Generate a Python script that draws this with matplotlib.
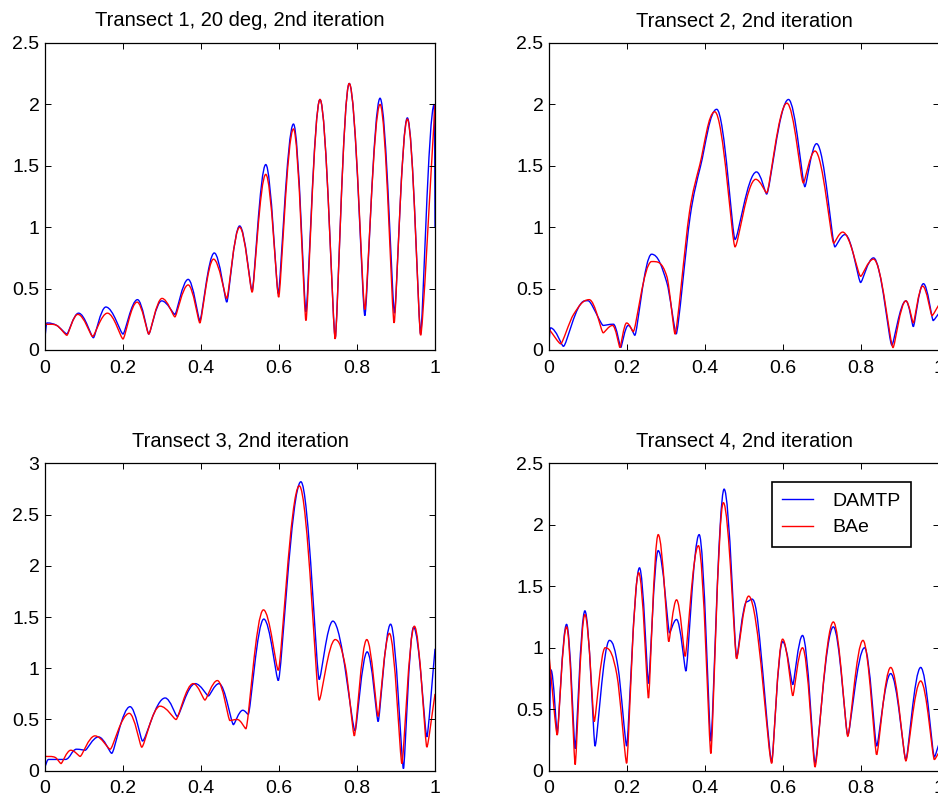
import numpy as np
import matplotlib
matplotlib.use('Agg')
import matplotlib.pyplot as plt
from matplotlib.path import Path
from matplotlib.patches import PathPatch
from matplotlib.lines import Line2D
from matplotlib.ticker import FormatStrFormatter

plt.rcParams['font.family'] = ['Liberation Sans', 'DejaVu Sans']

# values: peaks, troughs and a few shoulders of each curve
t1_x_damtp = [0.0, 0.005, 0.03, 0.056, 0.086, 0.124, 0.156, 0.2, 0.237, 0.266,
              0.299, 0.333, 0.367, 0.397, 0.434, 0.466, 0.499, 0.531, 0.566, 0.598,
              0.637, 0.669, 0.705, 0.744, 0.78, 0.82, 0.859, 0.896, 0.929, 0.963,
              0.998, 1.0]
t1_damtp = [0.11, 0.22, 0.20, 0.13, 0.30, 0.10, 0.35, 0.13, 0.41, 0.13,
            0.40, 0.29, 0.575, 0.24, 0.79, 0.39, 1.01, 0.48, 1.51, 0.46,
            1.84, 0.31, 2.04, 0.10, 2.17, 0.28, 2.05, 0.30, 1.89, 0.13,
            2.0, 1.0]
t1_x_bae = [0.0, 0.03, 0.056, 0.084, 0.122, 0.16, 0.2, 0.236, 0.266, 0.3,
            0.333, 0.367, 0.397, 0.432, 0.466, 0.499, 0.531, 0.566, 0.599, 0.637,
            0.669, 0.705, 0.744, 0.78, 0.82, 0.859, 0.895, 0.929, 0.963, 1.0]
t1_bae = [0.21, 0.20, 0.12, 0.29, 0.11, 0.30, 0.09, 0.39, 0.13, 0.42,
          0.27, 0.53, 0.22, 0.74, 0.42, 1.0, 0.47, 1.43, 0.43, 1.80,
          0.24, 2.04, 0.09, 2.17, 0.33, 2.0, 0.22, 1.88, 0.12, 2.0]

t2_x_damtp = [0.0, 0.004, 0.037, 0.092, 0.105, 0.139, 0.165, 0.184, 0.203, 0.22,
              0.263, 0.302, 0.326, 0.362, 0.388, 0.43, 0.477, 0.532, 0.558, 0.614,
              0.656, 0.686, 0.733, 0.759, 0.799, 0.832, 0.879, 0.915, 0.934, 0.96,
              0.985, 1.0]
t2_damtp = [0.07, 0.18, 0.03, 0.40, 0.39, 0.20, 0.21, 0.02, 0.20, 0.12,
            0.78, 0.55, 0.13, 1.09, 1.49, 1.96, 0.90, 1.45, 1.27, 2.04,
            1.33, 1.68, 0.84, 0.94, 0.55, 0.75, 0.04, 0.40, 0.19, 0.54,
            0.24, 0.30]
t2_x_bae = [0.0, 0.03, 0.063, 0.103, 0.139, 0.163, 0.182, 0.199, 0.216, 0.263,
            0.302, 0.323, 0.36, 0.386, 0.425, 0.477, 0.53, 0.558, 0.61, 0.652,
            0.682, 0.73, 0.753, 0.799, 0.832, 0.882, 0.915, 0.934, 0.958, 0.982,
            1.0]
t2_bae = [0.17, 0.05, 0.29, 0.41, 0.14, 0.20, 0.02, 0.22, 0.15, 0.72,
          0.60, 0.13, 1.12, 1.50, 1.94, 0.84, 1.39, 1.28, 2.01, 1.36,
          1.62, 0.87, 0.96, 0.60, 0.74, 0.02, 0.40, 0.22, 0.52, 0.28,
          0.37]

t3_x_damtp = [0.0, 0.009, 0.052, 0.081, 0.103, 0.137, 0.171, 0.218, 0.25, 0.308,
              0.339, 0.385, 0.419, 0.446, 0.483, 0.507, 0.521, 0.561, 0.598, 0.656,
              0.703, 0.738, 0.795, 0.826, 0.854, 0.886, 0.919, 0.945, 0.979, 1.0]
t3_damtp = [0.04, 0.11, 0.11, 0.21, 0.20, 0.33, 0.17, 0.625, 0.29, 0.71,
            0.53, 0.85, 0.73, 0.85, 0.45, 0.59, 0.55, 1.48, 0.88, 2.82,
            0.89, 1.46, 0.39, 1.16, 0.48, 1.43, 0.02, 1.40, 0.33, 1.19]
t3_x_bae = [0.0, 0.026, 0.041, 0.066, 0.09, 0.128, 0.167, 0.216, 0.248, 0.295,
            0.336, 0.38, 0.41, 0.442, 0.474, 0.493, 0.515, 0.56, 0.598, 0.652,
            0.703, 0.744, 0.77, 0.793, 0.825, 0.854, 0.883, 0.915, 0.947, 0.979,
            1.0]
t3_bae = [0.14, 0.13, 0.07, 0.20, 0.14, 0.34, 0.21, 0.56, 0.23, 0.63,
          0.50, 0.85, 0.69, 0.88, 0.49, 0.50, 0.41, 1.57, 0.98, 2.78,
          0.69, 1.28, 1.02, 0.34, 1.28, 0.53, 1.34, 0.07, 1.41, 0.23,
          0.75]

t4_x_damtp = [0.0, 0.005, 0.021, 0.045, 0.067, 0.092, 0.118, 0.155, 0.177, 0.199,
              0.232, 0.255, 0.28, 0.309, 0.327, 0.351, 0.385, 0.415, 0.449, 0.481,
              0.507, 0.532, 0.571, 0.599, 0.625, 0.65, 0.682, 0.729, 0.766, 0.809,
              0.84, 0.876, 0.915, 0.953, 0.988, 1.0]
t4_damtp = [0.06, 0.82, 0.30, 1.19, 0.18, 1.30, 0.20, 1.06, 0.84, 0.20,
            1.65, 0.71, 1.79, 1.12, 1.23, 0.81, 1.92, 0.24, 2.29, 0.92,
            1.375, 1.29, 0.07, 1.05, 0.70, 1.10, 0.06, 1.17, 0.29, 1.0,
            0.20, 0.79, 0.09, 0.84, 0.11, 0.22]
t4_x_bae = [0.0, 0.021, 0.045, 0.067, 0.092, 0.116, 0.144, 0.174, 0.199, 0.23,
            0.255, 0.28, 0.307, 0.327, 0.349, 0.383, 0.415, 0.447, 0.481, 0.512,
            0.571, 0.599, 0.625, 0.65, 0.682, 0.729, 0.766, 0.805, 0.84, 0.876,
            0.915, 0.953, 0.988, 1.0]
t4_bae = [0.94, 0.29, 1.17, 0.05, 1.27, 0.40, 1.00, 0.78, 0.06, 1.61,
          0.59, 1.92, 1.05, 1.39, 0.93, 1.83, 0.14, 2.18, 0.91, 1.42,
          0.06, 1.07, 0.61, 1.0, 0.03, 1.21, 0.28, 1.06, 0.13, 0.84,
          0.08, 0.73, 0.09, 0.15]

titles = ['Transect 1, 20 deg, 2nd iteration', 'Transect 2, 2nd iteration',
          'Transect 3, 2nd iteration', 'Transect 4, 2nd iteration']
ymax = [2.5, 2.5, 3, 2.5]


def smooth_path(x, y):
    # bezier through the read points, flat tangents at peaks and troughs
    x = np.asarray(x, float)
    y = np.asarray(y, float)
    n = len(x)
    m = np.zeros(n)
    f = np.full(n, 0.33)
    for i in range(1, n - 1):
        d1, d2 = y[i] - y[i-1], y[i+1] - y[i]
        if d1 * d2 > 0:
            m[i] = (y[i+1] - y[i-1]) / (x[i+1] - x[i-1])
        elif d1 < 0:
            f[i] = 0.15      # trough: sharper
        else:
            f[i] = 0.42      # peak: rounded
    m[0] = (y[1] - y[0]) / (x[1] - x[0])
    m[-1] = (y[-1] - y[-2]) / (x[-1] - x[-2])
    verts = [(x[0], y[0])]
    codes = [Path.MOVETO]
    for i in range(n - 1):
        dx = x[i+1] - x[i]
        a, b = f[i] * dx, f[i+1] * dx
        verts += [(x[i] + a, y[i] + a * m[i]),
                  (x[i+1] - b, y[i+1] - b * m[i+1]),
                  (x[i+1], y[i+1])]
        codes += [Path.CURVE4] * 3
    return Path(verts, codes)


series = [(t1_x_damtp, t1_damtp, t1_x_bae, t1_bae),
          (t2_x_damtp, t2_damtp, t2_x_bae, t2_bae),
          (t3_x_damtp, t3_damtp, t3_x_bae, t3_bae),
          (t4_x_damtp, t4_damtp, t4_x_bae, t4_bae)]

fig = plt.figure(figsize=(9.38, 8.02), dpi=100)
boxes = [[0.048, 0.5636, 0.4158, 0.3828], [0.5853, 0.5636, 0.4158, 0.3828],
         [0.048, 0.039, 0.4158, 0.3833], [0.5853, 0.039, 0.4158, 0.3833]]

for k in range(4):
    ax = fig.add_axes(boxes[k])
    xd, yd, xb, yb = series[k]
    ax.add_patch(PathPatch(smooth_path(xd, yd), fill=False, edgecolor='b', lw=1.0))
    ax.add_patch(PathPatch(smooth_path(xb, yb), fill=False, edgecolor='r', lw=1.0))
    ax.set_xlim(0, 1)
    ax.set_ylim(0, ymax[k])
    ax.set_xticks(np.arange(0, 1.01, 0.2))
    ax.set_yticks(np.arange(0, ymax[k] + 0.01, 0.5))
    ax.xaxis.set_major_formatter(FormatStrFormatter('%g'))
    ax.yaxis.set_major_formatter(FormatStrFormatter('%g'))
    ax.tick_params(direction='in', top=True, right=True, length=4, width=0.7,
                   labelsize=14)
    ax.tick_params(axis='x', pad=7)
    ax.tick_params(axis='y', pad=4)
    for s in ax.spines.values():
        s.set_linewidth(0.9)
    ax.set_title(titles[k], fontsize=14.5, pad=12)
    if k == 3:
        h = [Line2D([], [], color='b', lw=1.0), Line2D([], [], color='r', lw=1.0)]
        leg = ax.legend(h, ['DAMTP', 'BAe'], loc='upper left',
                        bbox_to_anchor=(0.571, 0.94), borderaxespad=0,
                        fontsize=14, fancybox=False, framealpha=1,
                        edgecolor='black', handlelength=1.55,
                        handletextpad=1.0, borderpad=0.55, labelspacing=0.45)
        leg.get_frame().set_linewidth(1.2)

fig.savefig('out.png', dpi=100)
